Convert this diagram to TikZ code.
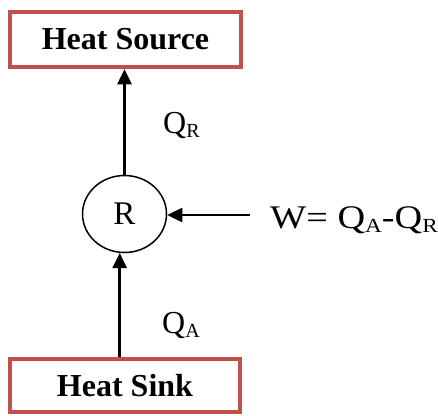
\documentclass[tikz,border=0pt]{standalone}
\usepackage{fontspec}
\setmainfont{Liberation Serif}
\usetikzlibrary{arrows.meta,shapes.geometric}
\definecolor{boxred}{HTML}{C0504D}
\newcommand{\subs}[1]{\raisebox{-0.15em}{\fontsize{20}{20}\selectfont #1}}
\begin{document}
\begin{tikzpicture}[x=1pt,y=-1pt,
  heatbox/.style={draw=boxred,line width=4.5pt,minimum width=231pt,inner sep=0pt,
    font=\fontsize{32}{32}\selectfont\bfseries},
  arr/.style={line width=2.5pt,-{Triangle[length=15pt,width=14pt]}},
  lbl/.style={anchor=base west,inner sep=0pt,font=\fontsize{32}{32}\selectfont}]
\useasboundingbox (0,0) rectangle (438,415);
\node[heatbox,minimum height=55pt] (src) at (125.5,39.5) {Heat Source};
\node[heatbox,minimum height=53pt,minimum width=230pt] (sink) at (125,385.5) {Heat Sink};
\node[draw,ellipse,line width=1.5pt,minimum width=84pt,minimum height=77pt,inner sep=0pt,
  font=\fontsize{33}{33}\selectfont] (circ) at (124.5,214) {R};
\node[lbl] (qr) at (163,133) {Q\subs{R}};
\node[lbl] (qa) at (162,333) {Q\subs{A}};
\node[lbl,font=\fontsize{33}{33}\selectfont] (w) at (270,228) {\scalebox{1.16}[1]{W= Q\subs{A}-Q\subs{R}}};
\coordinate (wstart) at (250,215);
\draw[arr] (circ.north) -- (circ.north |- src.south);
\draw[arr] (sink.north -| circ.263) -- (circ.263);
\draw[arr] (wstart) -- (wstart -| circ.east);
\end{tikzpicture}
\end{document}
